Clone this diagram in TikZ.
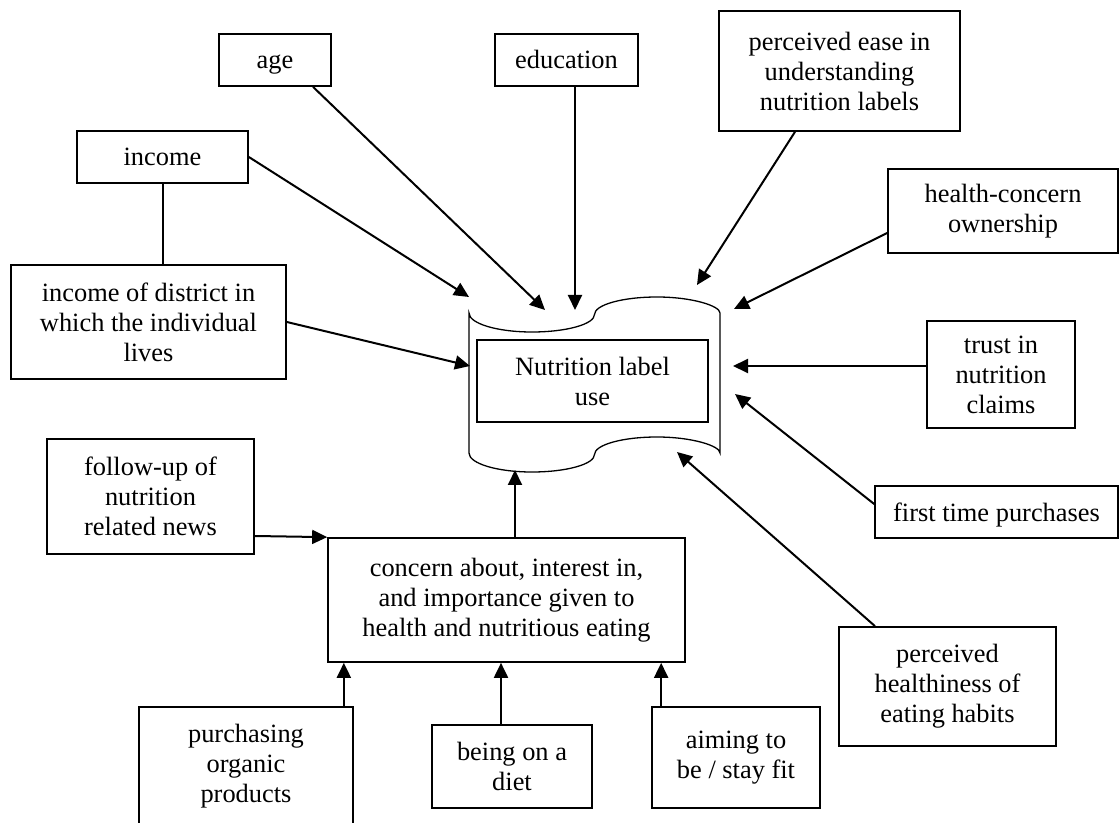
\documentclass[tikz,border=0pt]{standalone}
\usepackage{fontspec}
\setmainfont{Liberation Serif}
\usetikzlibrary{arrows.meta,calc}
\tikzset{
  box/.style={draw=black,line width=0.85pt,align=center,inner sep=2pt,
    font=\fontsize{13.2pt}{15pt}\selectfont},
  oneline/.style={text height=9pt,text depth=0pt},
  tapeline/.style={draw=black,line width=0.65pt},
  arrow/.style={-{Triangle[length=7.5pt,width=7pt]},line width=1pt,draw=black},
  link/.style={line width=1pt,draw=black}
}

\begin{document}
\begin{tikzpicture}[x=0.5pt,y=-0.5pt]
  \useasboundingbox (0,0) rectangle (1119,823);

  % centre: punched tape round the label-use box
  \draw[tapeline] (469,313)
    .. controls (469,323.5) and (497,332) .. (532,332)
    .. controls (566.5,332) and (594.5,324.2) .. (594.5,314.5)
    .. controls (594.5,304.8) and (622.5,297) .. (657,297)
    .. controls (691.8,297) and (720,305.8) .. (720,313)
    -- (720,453)
    .. controls (720,445.8) and (691.8,437) .. (657,437)
    .. controls (622.5,437) and (594.5,444.8) .. (594.5,454.5)
    .. controls (594.5,464.2) and (566.5,472) .. (532,472)
    .. controls (497,472) and (469,463.5) .. (469,453)
    -- cycle;
  \node[box, minimum width=115.5pt, minimum height=41pt] (use) at (592.5,381) {Nutrition label\\use};

  % top and left
  \node[box, oneline, minimum width=56pt, minimum height=26pt] (age) at (275,60) {age};
  \node[box, oneline, minimum width=71.5pt, minimum height=26pt] (edu) at (566.5,60) {education};
  \node[box, oneline, minimum width=85.5pt, minimum height=26pt] (income) at (162.5,157) {income};
  \node[box, minimum width=137.5pt, minimum height=57pt] (district) at (148.5,322) {income of district in\\which the individual\\lives};
  \node[box, minimum width=120.5pt, minimum height=60pt] (ease) at (839.5,71) {perceived ease in\\understanding\\nutrition labels};

  % right
  \node[box, minimum width=115pt, minimum height=42pt] (health) at (1003,211) {health-concern\\ownership};
  \node[box, minimum width=74pt, minimum height=53.5pt] (trust) at (1001,374.5) {trust in\\nutrition\\claims};
  \node[box, oneline, minimum width=121.5pt, minimum height=26pt] (first) at (996.5,512) {first time purchases};
  \node[box, minimum width=108.5pt, minimum height=59.5pt] (habits) at (947.5,686.5) {perceived\\healthiness of\\eating habits};

  % bottom
  \node[box, minimum width=103.5pt, minimum height=57.5pt] (news) at (150.5,496.5) {follow-up of\\nutrition\\related news};
  \node[box, minimum width=178.5pt, minimum height=62pt] (concern) at (506.5,600) {concern about, interest in,\\and importance given to\\health and nutritious eating};
  \node[box, minimum width=107pt, minimum height=59.5pt] (organic) at (246,766.5) {purchasing\\organic\\products};
  \node[box, minimum width=80pt, minimum height=41.5pt] (diet) at (512,766.5) {being on a\\diet};
  \node[box, minimum width=84pt, minimum height=50.5pt] (fit) at (736,757.5) {aiming to\\be / stay fit};

  % arrow tips round the tape
  \coordinate (tInc) at (469,297);
  \coordinate (tAge) at (545,310);
  \coordinate (tEdu) at (575,310);
  \coordinate (tDis) at (470,366);
  \coordinate (tEase) at (697,285);
  \coordinate (tHealth) at (734,309);
  \coordinate (tTrust) at (733,366);
  \coordinate (tFirst) at (735,394);
  \coordinate (tHabits) at (677,452);
  \coordinate (tConc) at (515,470);

  \draw[link] (income.south) -- (income.south |- district.north);
  \draw[arrow] (income.east) -- (tInc);
  \draw[arrow] ([xshift=19pt]age.south) -- (tAge);
  \draw[arrow] ([xshift=4.25pt]edu.south) -- (tEdu);
  \draw[arrow] (district.east) -- (tDis);
  \draw[arrow] ([xshift=-22.25pt]ease.south) -- (tEase);
  \draw[arrow] ([yshift=-11pt]health.west) -- (tHealth);
  \draw[arrow] ([yshift=4.25pt]trust.west) -- (tTrust);
  \draw[arrow] ([yshift=4pt]first.west) -- (tFirst);
  \draw[arrow] ([xshift=-36.25pt]habits.north) -- (tHabits);
  \draw[arrow] ([xshift=4.25pt]concern.north) -- (tConc);
  \draw[arrow] ([yshift=-19.75pt]news.east) -- (concern.north west);
  \draw[arrow] ([xshift=-5pt]organic.north east) -- ([xshift=-5pt]organic.north east |- concern.south);
  \draw[arrow] ([xshift=-5.5pt]diet.north) -- ([xshift=-5.5pt]diet.north |- concern.south);
  \draw[arrow] ([xshift=5pt]fit.north west) -- ([xshift=5pt]fit.north west |- concern.south);
\end{tikzpicture}
\end{document}
